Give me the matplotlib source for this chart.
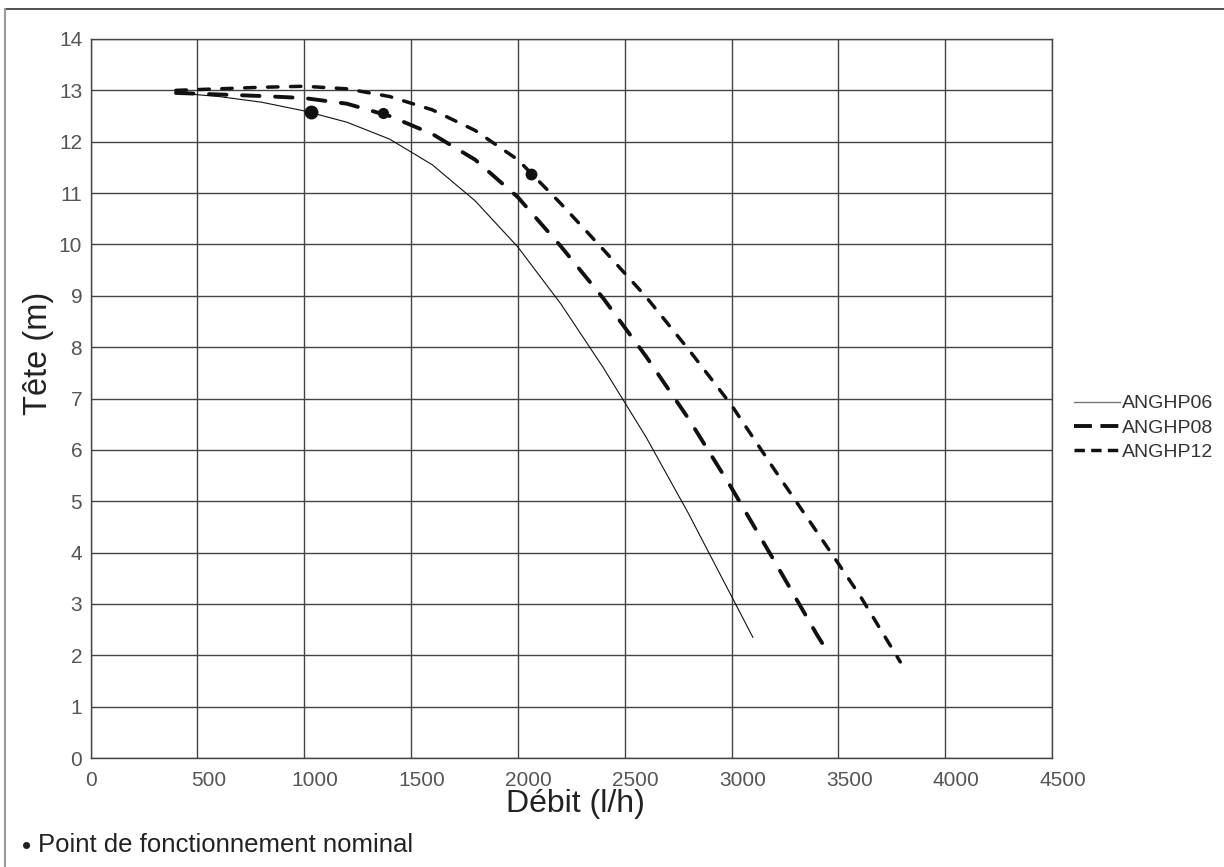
import numpy as np
import matplotlib
matplotlib.use("Agg")
import matplotlib.pyplot as plt
from matplotlib.lines import Line2D
from matplotlib.transforms import ScaledTranslation

plt.rcParams['font.family'] = ['Liberation Sans', 'DejaVu Sans']

# --- pump curves (flow l/h, head m) ---
q06 = [400, 600, 800, 1000, 1200, 1400, 1600, 1800, 2000, 2200, 2400, 2600, 2800, 3000, 3100]
h06 = [12.95, 12.88, 12.77, 12.6, 12.38, 12.05, 11.55, 10.85, 9.95, 8.85, 7.6, 6.25, 4.75, 3.15, 2.35]

q08 = [400, 600, 800, 1000, 1200, 1400, 1600, 1800, 2000, 2200, 2400, 2600, 2800, 3000, 3200, 3400, 3460]
h08 = [12.95, 12.92, 12.89, 12.85, 12.74, 12.5, 12.15, 11.65, 10.92, 9.97, 8.95, 7.82, 6.6, 5.26, 3.84, 2.4, 2.0]

q12 = [400, 600, 800, 1000, 1200, 1400, 1600, 1800, 2000, 2200, 2400, 2600, 2800, 3000, 3200, 3400, 3600, 3790]
h12 = [13.0, 13.03, 13.06, 13.08, 13.03, 12.88, 12.62, 12.22, 11.65, 10.8, 9.9, 8.98, 7.95, 6.87, 5.62, 4.4, 3.17, 1.87]

# nominal operating points
nom_q = [1030, 1370, 2062]
nom_h = [12.57, 12.55, 11.38]
nom_size = [9, 7, 7.5]

labels = ["ANGHP06", "ANGHP08", "ANGHP12"]
xticks = np.arange(0, 4501, 500)
yticks = np.arange(0, 15, 1)

ink = "#111111"
grid_c = "#444444"
tick_c = "#555555"

fig = plt.figure(figsize=(12.24, 8.67), dpi=100)
ax = fig.add_axes([90.5 / 1224, 1 - 758 / 867, (1052 - 90.5) / 1224, (758 - 39) / 867])

ax.plot(q06, h06, color=ink, lw=0.8, label=labels[0])
ax.plot(q08, h08, color=ink, lw=2.8, dashes=(4.5, 4), dash_capstyle='round', label=labels[1])
ax.plot(q12, h12, color=ink, lw=2.5, dashes=(3.0, 3.6), dash_capstyle='round', label=labels[2])

for x, y, s in zip(nom_q, nom_h, nom_size):
    ax.plot(x, y, 'o', color=ink, ms=s, zorder=5)

ax.set_xlim(0, 4500)
ax.set_ylim(0, 14)
ax.set_xticks(xticks)
ax.set_yticks(yticks)
ax.grid(True, color=grid_c, lw=1.0)
ax.set_axisbelow(True)
for s in ax.spines.values():
    s.set_color(grid_c)
    s.set_linewidth(1.0)
ax.tick_params(length=0, labelsize=15, labelcolor=tick_c)
ax.tick_params(axis='x', pad=9)
ax.tick_params(axis='y', pad=6)

# the x tick labels sit a little to the right of their gridlines
shift = ScaledTranslation(11 / 100, 0, fig.dpi_scale_trans)
for lab in ax.get_xticklabels()[1:]:
    lab.set_transform(lab.get_transform() + shift)

ax.set_xlabel("Débit (l/h)", fontsize=23, color="#222222")
ax.xaxis.set_label_coords((575 - 90.5) / (1052 - 90.5), -(804 - 758) / (758 - 39))
ax.set_ylabel("Tête (m)", fontsize=23.5, color="#222222")
ax.yaxis.set_label_coords(-(90.5 - 38) / (1052 - 90.5), (758 - 353) / (758 - 39))
ax.xaxis.label.set_va('center')
ax.yaxis.label.set_va('center')

# legend to the right of the plot
handles = [
    Line2D([], [], color="#777777", lw=1.0),
    Line2D([], [], color=ink, lw=2.8, dashes=(4.6, 2.2)),
    Line2D([], [], color=ink, lw=2.5, dashes=(3.0, 1.8)),
]
fig.legend(handles, labels, loc='upper left', bbox_to_anchor=(1064 / 1224, 1 - 385 / 867),
           frameon=False, fontsize=14, labelcolor="#333333", handlelength=2.4,
           handletextpad=0.1, labelspacing=0.35, borderpad=0)

fig.text(22 / 1224, 1 - 847 / 867, "•", fontsize=19, color="#222222", va='center')
fig.text(38 / 1224, 1 - 845 / 867, "Point de fonctionnement nominal", fontsize=18.5,
         color="#222222", va='center')

# page frame
fig.add_artist(Line2D([5 / 1224, 1], [1 - 9 / 867, 1 - 9 / 867], transform=fig.transFigure,
                      color="#333333", lw=1.2))
fig.add_artist(Line2D([5 / 1224, 5 / 1224], [0, 1 - 9 / 867], transform=fig.transFigure,
                      color="#999999", lw=1.5))

fig.savefig("out.png", dpi=100)
